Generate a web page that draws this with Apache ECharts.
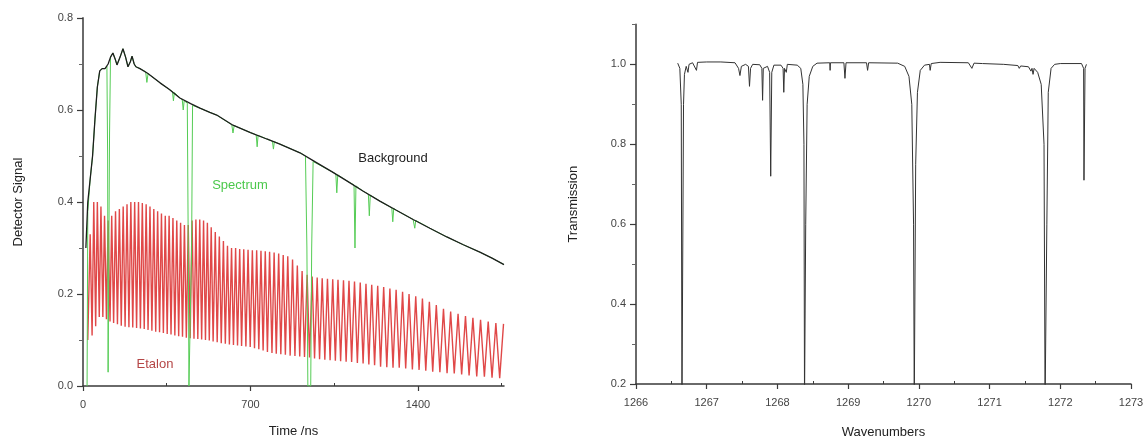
<!DOCTYPE html>
<html>
<head>
<meta charset="utf-8">
<script src="https://cdn.jsdelivr.net/npm/echarts@6/dist/echarts.min.js"></script>
<style>html,body{margin:0;padding:0;background:#fff}#c{width:1147px;height:444px}</style>
</head>
<body>
<div id="c"></div>
<script>
// ---------- Left panel: tick values ----------
var leftXTicks = [0, 700, 1400];
var leftXMinor = [350, 1050, 1750];
var leftYTicks = [0, 0.2, 0.4, 0.6, 0.8];
var leftYMinor = [0.1, 0.3, 0.5, 0.7];
// ---------- Right panel: tick values ----------
var rightXTicks = [1266, 1267, 1268, 1269, 1270, 1271, 1272, 1273];
var rightXMinor = [1266.5, 1267.5, 1268.5, 1269.5, 1270.5, 1271.5, 1272.5];
var rightYTicks = [0.2, 0.4, 0.6, 0.8, 1.0];
var rightYMinor = [0.3, 0.5, 0.7, 0.9, 1.1];

// ---------- Background (time ns, signal) ----------
var bgT = [12,20,30,40,50,60,70,80,92,105,115,125,135,142,155,167,178,188,198,205,214,221,238,270,322,360,405,450,489,530,559,627,700,768,823,907,962,1040,1103,1170,1241,1310,1380,1450,1521,1590,1659,1710,1760];
var bgV = [0.30,0.40,0.45,0.50,0.58,0.65,0.685,0.69,0.69,0.70,0.715,0.724,0.71,0.698,0.715,0.733,0.715,0.694,0.705,0.717,0.70,0.694,0.69,0.68,0.659,0.645,0.626,0.614,0.604,0.595,0.589,0.567,0.551,0.537,0.526,0.507,0.49,0.466,0.446,0.424,0.402,0.382,0.362,0.343,0.324,0.307,0.291,0.278,0.264];

// ---------- Spectrum (time ns, signal) ----------
var specT = [17,20,30,40,50,60,70,80,92,100,103,105,108,111,115,125,135,142,155,167,178,188,198,205,214,221,238,262,267,272,322,360,374,378,382,405,415,419,423,436,440,443,451,454,458,489,530,559,622,627,632,700,724,728,732,768,792,796,800,823,907,930,936,940,952,956,962,1040,1057,1061,1065,1103,1133,1137,1141,1170,1193,1197,1201,1241,1291,1295,1299,1310,1380,1384,1387,1391,1450,1521,1590,1659,1710,1760];
var specV = [0.0,0.38,0.45,0.50,0.58,0.65,0.685,0.69,0.69,0.695,0.5,0.03,0.03,0.55,0.715,0.724,0.71,0.698,0.715,0.733,0.715,0.694,0.705,0.717,0.70,0.694,0.69,0.683,0.66,0.679,0.659,0.645,0.64,0.62,0.638,0.626,0.622,0.60,0.62,0.615,0.3,0.0,0.0,0.3,0.61,0.604,0.595,0.589,0.568,0.55,0.566,0.551,0.546,0.52,0.545,0.537,0.532,0.515,0.531,0.526,0.507,0.50,0.30,0.0,0.0,0.30,0.488,0.466,0.461,0.42,0.459,0.446,0.437,0.30,0.435,0.424,0.417,0.37,0.415,0.402,0.387,0.357,0.386,0.382,0.362,0.361,0.343,0.36,0.343,0.324,0.307,0.291,0.278,0.264];

// ---------- Etalon fringes: peaks and troughs ----------
var etStart = [20, 0.10];
var etPeakT = [30,45,60,75,90,105,120,136,152,168,184,200,216,232,248,264,280,296,312,328,344,360,376,392,408,424,440,
  456,472,488,504,520,536,553,570,587,604,621,638,655,672,690,708,726,744,762,780,799,
  818,837,856,876,896,916,937,958,979,1000,1022,1044,1066,1089,1112,1135,1159,1183,1207,1232,1257,1283,1309,1336,1363,1391,1419,1448,1477,1507,1537,1568,1599,1630,1662,1694,1726,1758];
var etPeakV = [0.33,0.40,0.40,0.39,0.37,0.36,0.37,0.38,0.385,0.39,0.395,0.40,0.40,0.40,0.398,0.395,0.39,0.385,0.38,0.375,0.37,0.37,0.365,0.36,0.355,0.35,0.35,
  0.36,0.362,0.362,0.36,0.355,0.345,0.335,0.325,0.315,0.305,0.30,0.30,0.298,0.297,0.296,0.295,0.295,0.294,0.293,0.292,0.29,
  0.288,0.285,0.282,0.275,0.262,0.25,0.242,0.238,0.236,0.234,0.233,0.232,0.231,0.23,0.229,0.227,0.225,0.222,0.22,0.218,0.215,0.212,0.209,0.205,0.20,0.195,0.19,0.183,0.176,0.168,0.162,0.157,0.152,0.148,0.144,0.14,0.137,0.135];
var etTroughT = [38,53,68,83,98,113,128,144,160,176,192,208,224,240,256,272,288,304,320,336,352,368,384,400,416,432,448,
  464,480,496,512,528,544,561,578,595,612,629,646,663,681,699,717,735,753,771,790,808,
  827,846,866,886,906,926,947,968,989,1011,1033,1055,1077,1100,1123,1147,1171,1195,1219,1244,1270,1296,1322,1349,1377,1405,1433,1462,1492,1522,1552,1583,1614,1646,1678,1710,1742];
var etTroughV = [0.11,0.13,0.15,0.15,0.145,0.14,0.137,0.134,0.131,0.129,0.128,0.127,0.126,0.125,0.124,0.122,0.12,0.118,0.117,0.115,0.113,0.112,0.11,0.108,0.107,0.105,0.104,
  0.103,0.102,0.101,0.10,0.099,0.097,0.095,0.093,0.092,0.09,0.089,0.088,0.087,0.086,0.085,0.082,0.08,0.077,0.074,0.072,0.07,
  0.069,0.068,0.066,0.065,0.064,0.063,0.062,0.06,0.058,0.057,0.056,0.055,0.054,0.053,0.052,0.05,0.049,0.047,0.045,0.042,0.041,0.04,0.04,0.038,0.036,0.035,0.033,0.031,0.03,0.028,0.027,0.025,0.023,0.021,0.02,0.018,0.017];

// ---------- Transmission spectrum (wavenumber, transmission) ----------
var trWn = [1266.59,1266.62,1266.64,1266.650,1266.662,1266.672,1266.685,1266.695,1266.71,1266.735,1266.75,1266.80,1266.855,1266.87,1267.0,1267.2,1267.40,1267.45,1267.47,1267.49,1267.55,1267.59,1267.605,1267.62,1267.65,1267.75,1267.78,1267.79,1267.80,1267.86,1267.89,1267.905,1267.92,1267.95,1268.05,1268.08,1268.09,1268.10,1268.12,1268.125,1268.14,1268.28,1268.33,1268.36,1268.375,1268.383,1268.395,1268.40,1268.42,1268.45,1268.50,1268.56,1268.74,1268.745,1268.75,1268.94,1268.955,1268.97,1269.26,1269.275,1269.29,1269.70,1269.80,1269.86,1269.90,1269.925,1269.935,1269.95,1269.955,1269.98,1270.02,1270.08,1270.15,1270.16,1270.175,1270.3,1270.7,1270.75,1270.765,1270.78,1270.9,1271.2,1271.4,1271.42,1271.44,1271.55,1271.585,1271.60,1271.615,1271.63,1271.68,1271.73,1271.77,1271.785,1271.80,1271.81,1271.83,1271.87,1271.92,1272.0,1272.30,1272.33,1272.335,1272.345,1272.35,1272.37];
var trV = [1.003,0.99,0.9,0.15,0.15,0.90,0.975,0.97,0.995,0.98,1.0,1.004,0.985,1.005,1.006,1.006,1.004,0.99,0.972,0.995,1.0,0.995,0.945,0.99,1.0,0.999,0.99,0.91,0.99,0.995,0.98,0.72,0.98,0.998,0.998,0.99,0.93,0.99,0.99,0.98,1.0,0.998,0.99,0.95,0.80,0.15,0.15,0.60,0.90,0.97,0.995,1.003,1.004,0.985,1.004,1.004,0.965,1.004,1.004,0.985,1.004,1.003,0.995,0.97,0.90,0.6,0.15,0.15,0.75,0.93,0.985,0.998,1.0,0.985,1.002,1.005,1.004,0.99,0.985,1.003,1.002,1.0,0.997,0.99,0.996,0.994,0.983,0.99,0.975,0.99,0.98,0.95,0.8,0.15,0.15,0.6,0.93,0.99,1.0,1.002,1.002,0.99,0.71,0.71,0.99,1.0];

function zip(a, b) { var r = []; for (var i = 0; i < a.length; i++) r.push([a[i], b[i]]); return r; }
var etalon = [etStart];
for (var i = 0; i < etPeakT.length; i++) {
  etalon.push([etPeakT[i], etPeakV[i]]);
  if (i < etTroughT.length) etalon.push([etTroughT[i], etTroughV[i]]);
}

var FONT = 'Liberation Sans, Arial, sans-serif';
var AX = '#3a3a3a';
var LBL = '#444';

function majorX(grid, min, max, ticks, name, gap, fmt) {
  return {
    type: 'value', gridIndex: grid, position: 'bottom', min: min, max: max,
    name: name, nameLocation: 'middle', nameGap: gap,
    nameTextStyle: { fontFamily: FONT, fontSize: 13, color: '#222' },
    axisLine: { show: true, onZero: false, lineStyle: { color: AX, width: 1.5 } },
    axisTick: { show: true, customValues: ticks, length: 5, lineStyle: { color: AX, width: 1.2 } },
    axisLabel: { show: true, customValues: ticks, margin: 13, fontFamily: FONT, fontSize: 11, color: LBL, formatter: fmt },
    splitLine: { show: false }
  };
}
function minorX(grid, min, max, ticks) {
  return {
    type: 'value', gridIndex: grid, position: 'bottom', min: min, max: max,
    axisLine: { show: false, onZero: false },
    axisTick: { show: true, customValues: ticks, inside: true, length: 3, lineStyle: { color: AX, width: 1 } },
    axisLabel: { show: false }, splitLine: { show: false }
  };
}
function majorY(grid, min, max, ticks, name, gap) {
  return {
    type: 'value', gridIndex: grid, position: 'left', min: min, max: max,
    name: name, nameLocation: 'middle', nameGap: gap,
    nameTextStyle: { fontFamily: FONT, fontSize: 13, color: '#222' },
    axisLine: { show: true, onZero: false, lineStyle: { color: '#5a5a5a', width: 1.8 } },
    axisTick: { show: true, customValues: ticks, length: 6, lineStyle: { color: AX, width: 1.2 } },
    axisLabel: { show: true, customValues: ticks, margin: 10, fontFamily: FONT, fontSize: 11, color: LBL,
      formatter: function (v) { return v.toFixed(1); } },
    splitLine: { show: false }
  };
}
function minorY(grid, min, max, ticks) {
  return {
    type: 'value', gridIndex: grid, position: 'left', min: min, max: max,
    axisLine: { show: false, onZero: false },
    axisTick: { show: true, customValues: ticks, length: 4, lineStyle: { color: '#666', width: 1 } },
    axisLabel: { show: false }, splitLine: { show: false }
  };
}

var chart = echarts.init(document.getElementById('c'), null, { renderer: 'canvas' });
chart.setOption({
  animation: false,
  backgroundColor: '#fff',
  grid: [
    { left: 83, top: 18, width: 421, height: 368 },
    { left: 636, top: 24.4, width: 495, height: 363.6 }
  ],
  xAxis: [
    majorX(0, 0, 1760, leftXTicks, 'Time /ns', 39, function (v) { return String(v); }),
    minorX(0, 0, 1760, leftXMinor),
    majorX(1, 1266, 1273, rightXTicks, 'Wavenumbers', 42, function (v) { return String(Math.round(v)); }),
    minorX(1, 1266, 1273, rightXMinor)
  ],
  yAxis: [
    majorY(0, 0, 0.8, leftYTicks, 'Detector Signal', 58),
    minorY(0, 0, 0.8, leftYMinor),
    majorY(1, 0.2, 1.1, rightYTicks, 'Transmission', 56),
    minorY(1, 0.2, 1.1, rightYMinor)
  ],
  series: [
    { type: 'line', xAxisIndex: 0, yAxisIndex: 0, data: etalon, symbol: 'none', clip: true,
      lineStyle: { color: '#e04848', width: 1.4 }, z: 2 },
    { type: 'line', xAxisIndex: 0, yAxisIndex: 0, data: zip(specT, specV), symbol: 'none', clip: true,
      lineStyle: { color: '#55cc55', width: 1 }, z: 3 },
    { type: 'line', xAxisIndex: 0, yAxisIndex: 0, data: zip(bgT, bgV), symbol: 'none', clip: true,
      lineStyle: { color: '#1e1e1e', width: 1.3 }, z: 4 },
    { type: 'line', xAxisIndex: 2, yAxisIndex: 2, data: zip(trWn, trV), symbol: 'none', clip: true,
      lineStyle: { color: '#333', width: 1 }, z: 2 }
  ],
  graphic: [
    { type: 'text', x: 393, y: 158, style: { text: 'Background', fontFamily: FONT, fontSize: 13, fill: '#222', align: 'center', verticalAlign: 'middle' } },
    { type: 'text', x: 240, y: 185, style: { text: 'Spectrum', fontFamily: FONT, fontSize: 13, fill: '#4cc84c', align: 'center', verticalAlign: 'middle' } },
    { type: 'text', x: 155, y: 364, style: { text: 'Etalon', fontFamily: FONT, fontSize: 13, fill: '#b54646', align: 'center', verticalAlign: 'middle' } }
  ]
});
</script>
</body>
</html>
